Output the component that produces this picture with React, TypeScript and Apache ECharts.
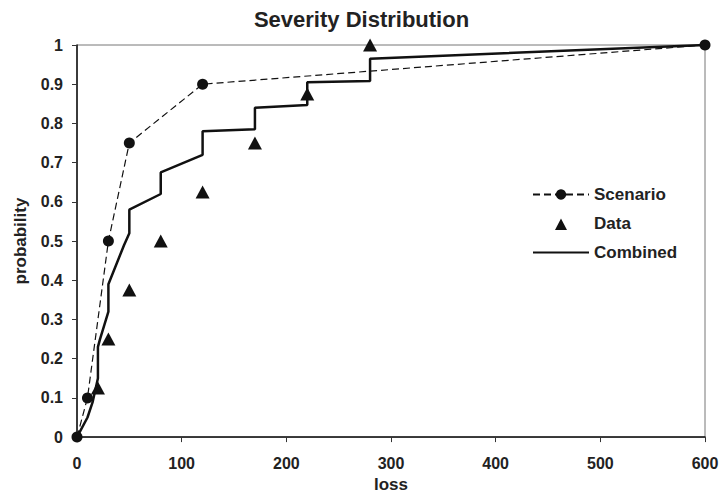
import React, { useEffect, useRef } from "react";
import * as echarts from "echarts";

const scenarioX = [0, 10, 30, 50, 120, 600];
const scenarioY = [0, 0.1, 0.5, 0.75, 0.9, 1];

const dataX = [20, 30, 50, 80, 120, 170, 220, 280];
const dataY = [0.125, 0.25, 0.375, 0.5, 0.625, 0.75, 0.875, 1];

const combinedX = [0, 10, 15, 20, 20, 22, 30, 30, 45, 50, 50, 80, 80, 120, 120, 170, 170, 220, 220, 280, 280, 600];
const combinedY = [0, 0.05, 0.09, 0.15, 0.23, 0.25, 0.32, 0.39, 0.49, 0.52, 0.58, 0.62, 0.675, 0.72, 0.78, 0.785, 0.84, 0.847, 0.905, 0.908, 0.965, 1];

const FONT = "'Liberation Sans', Arial, sans-serif";

export default function App() {
  const ref = useRef<HTMLDivElement>(null);
  useEffect(() => {
    const chart = echarts.init(ref.current!, null, { renderer: "svg" });
    const zip = (xs: number[], ys: number[]) => xs.map((x, i) => [x, ys[i]]);
    chart.setOption({
      animation: false,
      backgroundColor: "#fff",
      title: {
        text: "Severity Distribution",
        left: "center",
        top: 3,
        textStyle: { fontFamily: FONT, fontSize: 22, fontWeight: "bold", color: "#222" },
      },
      grid: {
        left: 77,
        right: 18,
        top: 45,
        bottom: 55,
        show: true,
        borderColor: "#777",
        borderWidth: 1,
      },
      legend: {
        left: 532,
        top: 186,
        padding: 0,
        orient: "vertical",
        itemGap: 12,
        itemWidth: 56,
        itemHeight: 13,
        textStyle: { fontFamily: FONT, fontSize: 17, fontWeight: "bold", color: "#222" },
        data: [
          { name: "Scenario" },
          {
            name: "Data",
            icon: "path://M0 0L0.01 0M56 13L56.01 13M22 13L28 1.5L34 13Z",
            itemStyle: { color: "#111", opacity: 1 },
          },
          { name: "Combined", itemStyle: { color: "rgba(0,0,0,0)", borderWidth: 0 } },
        ],
      },
      xAxis: {
        type: "value",
        min: 0,
        max: 600,
        interval: 100,
        name: "loss",
        nameLocation: "middle",
        nameGap: 38,
        nameTextStyle: { fontFamily: FONT, fontSize: 17, fontWeight: "bold", color: "#222" },
        axisLine: { lineStyle: { color: "#111", width: 1.5 } },
        axisTick: { length: 5, lineStyle: { color: "#333" } },
        axisLabel: { fontFamily: FONT, fontSize: 16, fontWeight: "bold", color: "#222", margin: 18 },
        splitLine: { show: false },
      },
      yAxis: {
        type: "value",
        min: 0,
        max: 1,
        interval: 0.1,
        name: "probability",
        nameLocation: "middle",
        nameGap: 48,
        nameTextStyle: { fontFamily: FONT, fontSize: 17, fontWeight: "bold", color: "#222" },
        axisLine: { show: true, lineStyle: { color: "#111", width: 1.5 } },
        axisTick: { show: true, length: 5, lineStyle: { color: "#333" } },
        axisLabel: {
          fontFamily: FONT,
          fontSize: 16,
          fontWeight: "bold",
          color: "#222",
          margin: 14,
          formatter: (v: number) => String(Math.round(v * 10) / 10),
        },
        splitLine: { show: false },
      },
      series: [
        {
          name: "Scenario",
          type: "line",
          data: zip(scenarioX, scenarioY),
          symbol: "circle",
          symbolSize: 11,
          itemStyle: { color: "#111" },
          lineStyle: { color: "#111", width: 1.2, type: [7, 4] },
          z: 3,
        },
        {
          name: "Data",
          type: "scatter",
          data: zip(dataX, dataY),
          symbol: "triangle",
          symbolSize: [14, 13],
          itemStyle: { color: "#111", opacity: 1 },
          z: 4,
        },
        {
          name: "Combined",
          type: "line",
          data: zip(combinedX, combinedY),
          symbol: "none",
          itemStyle: { color: "#111" },
          lineStyle: { color: "#111", width: 2.5 },
          z: 2,
        },
      ],
    });
    return () => chart.dispose();
  }, []);
  return <div ref={ref} style={{ width: 723, height: 498, position: "absolute", left: 0, top: 0 }} />;
}
